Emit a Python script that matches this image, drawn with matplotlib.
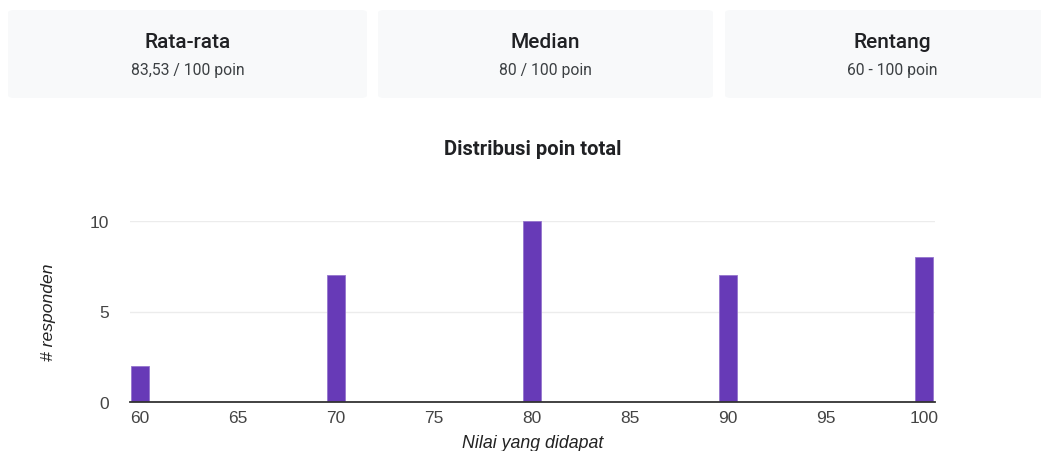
import matplotlib.pyplot as plt
import numpy as np
from matplotlib.patches import FancyBboxPatch

# summary cards
card_titles = ['Rata-rata', 'Median', 'Rentang']
card_values = ['83,53 / 100 poin', '80 / 100 poin', '60 - 100 poin']

# histogram data
scores = [60, 70, 80, 90, 100]
counts = [2, 7, 10, 7, 8]
x_ticks = [60, 65, 70, 75, 80, 85, 90, 95, 100]
y_ticks = [0, 5, 10]

W, H = 1041, 452
fig = plt.figure(figsize=(W / 100, H / 100), dpi=100)
fig.patch.set_facecolor('white')


def px(x, y):
    return x / W, 1 - y / H


# cards (pixel extents)
cards = [(8, 367), (378, 713), (725, 1060)]
for (x0, x1), title, val in zip(cards, card_titles, card_values):
    bx, by = px(x0, 99)
    box = FancyBboxPatch((bx, by), (x1 - x0) / W, 88 / H,
                         boxstyle='round,pad=0,rounding_size=0.006',
                         transform=fig.transFigure, facecolor='#f8f9fa',
                         edgecolor='none')
    fig.patches.append(box)
    cx = (x0 + x1) / 2
    fig.text(*px(cx, 43), title, ha='center', va='center', fontsize=15,
             fontfamily='Roboto', fontweight='medium', color='#202124')
    fig.text(*px(cx, 71), val, ha='center', va='center', fontsize=11.3,
             fontfamily='Roboto', color='#3c4043')

fig.text(*px(533, 150), 'Distribusi poin total', ha='center', va='center',
         fontsize=14.5, fontfamily='Roboto', fontweight='bold', color='#202124')

ax = fig.add_axes([130 / W, (H - 403) / H, 805 / W, (403 - 222) / H])
ax.bar(scores, counts, width=0.92, color='#673ab7', edgecolor='#9575cd',
       linewidth=0.6, zorder=3)
ax.set_xlim(59.5, 100.55)
ax.set_ylim(0, 10)
ax.set_xticks(x_ticks)
ax.set_yticks(y_ticks)
ax.tick_params(length=0, labelsize=12.5, colors='#444444')
ax.tick_params(axis='x', pad=6)
ax.tick_params(axis='y', pad=15)
for lbl in ax.get_xticklabels() + ax.get_yticklabels():
    lbl.set_fontfamily('Liberation Sans')
for s in ['top', 'right', 'left']:
    ax.spines[s].set_visible(False)
ax.spines['bottom'].set_color('#333333')
ax.spines['bottom'].set_linewidth(1.3)
ax.spines['bottom'].set_zorder(4)
ax.yaxis.grid(True, color='#ececec', linewidth=1, zorder=0)

fig.text(*px(48, 312), '# responden', rotation=90, ha='center', va='center',
         fontsize=12.6, style='italic', fontfamily='Liberation Sans',
         color='#222222')
fig.text(*px(533, 444), 'Nilai yang didapat', ha='center', va='center',
         fontsize=12.8, style='italic', fontfamily='Liberation Sans',
         color='#222222')

fig.savefig('out.png', dpi=100)
